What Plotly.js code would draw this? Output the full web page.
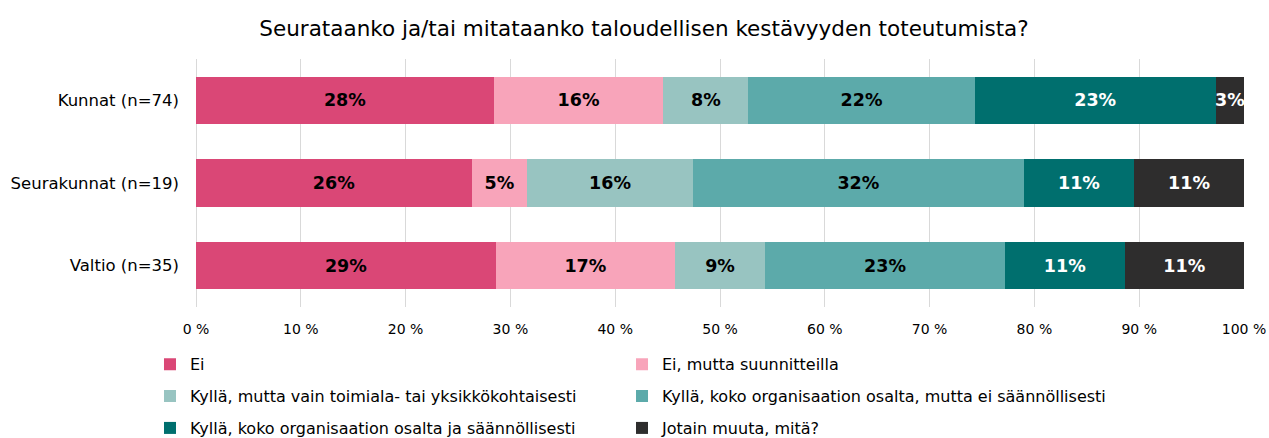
<!DOCTYPE html>
<html>
<head>
<meta charset="utf-8">
<script src="https://cdn.plot.ly/plotly-3.0.1.min.js"></script>
<style>html,body{margin:0;padding:0;background:#fff;}#chart{width:1269px;height:438px;}</style>
</head>
<body>
<div id="chart"></div>
<script>
const categories = ["Kunnat (n=74)", "Seurakunnat (n=19)", "Valtio (n=35)"];
const seriesNames = [
  "Ei",
  "Ei, mutta suunnitteilla",
  "Kyllä, mutta vain toimiala- tai yksikkökohtaisesti",
  "Kyllä, koko organisaation osalta, mutta ei säännöllisesti",
  "Kyllä, koko organisaation osalta ja säännöllisesti",
  "Jotain muuta, mitä?"
];
const ei          = [28.4, 26.3, 28.6];
const eiMutta     = [16.2, 5.3, 17.1];
const kyllaVain   = [8.1, 15.8, 8.6];
const kyllaEiSaan = [21.6, 31.6, 22.9];
const kyllaSaan   = [23.0, 10.5, 11.4];
const jotain      = [2.7, 10.5, 11.4];
const tickVals = [0,10,20,30,40,50,60,70,80,90,100];
const tickText = ["0 %","10 %","20 %","30 %","40 %","50 %","60 %","70 %","80 %","90 %","100 %"];

const seriesValues = [ei, eiMutta, kyllaVain, kyllaEiSaan, kyllaSaan, jotain];
const colors = ["#DA4776", "#F8A4BA", "#98C4C1", "#5CAAAA", "#006F6E", "#2E2D2D"];
const textColors = ["#000", "#000", "#000", "#000", "#fff", "#fff"];
const legendIds = ["legend", "legend2", "legend3", "legend4", "legend5", "legend6"];
const FONT = "Verdana, 'DejaVu Sans', sans-serif";

const traces = seriesValues.map((vals, i) => ({
  type: "bar",
  orientation: "h",
  name: seriesNames[i],
  y: categories,
  x: vals,
  marker: {color: colors[i], line: {width: 0}},
  text: vals.map(v => Math.round(v) + "%"),
  texttemplate: "%{text}",
  textposition: "inside",
  insidetextanchor: "middle",
  textangle: 0,
  constraintext: "none",
  textfont: {family: FONT, size: 17.5, color: textColors[i], weight: "bold"},
  hoverinfo: "name+x",
  legend: legendIds[i]
}));

const legendCommon = {
  orientation: "h",
  xref: "paper",
  yref: "paper",
  xanchor: "left",
  yanchor: "middle",
  font: {family: FONT, size: 16, color: "#000"},
  bgcolor: "rgba(0,0,0,0)",
  itemclick: false
};
const colX = [-0.0439, 0.4065];
const rowY = [-0.2309, -0.3594, -0.4880];

const layout = {
  width: 1269,
  height: 438,
  paper_bgcolor: "#fff",
  plot_bgcolor: "#fff",
  margin: {l: 196, r: 25, t: 58.5, b: 130.5, autoexpand: false},
  barmode: "stack",
  bargap: 0.43,
  title: {
    text: "Seurataanko ja/tai mitataanko taloudellisen kestävyyden toteutumista?",
    font: {family: "'DejaVu Sans', sans-serif", size: 21.5, color: "#000"},
    xref: "paper", x: 0.4275, xanchor: "center",
    yref: "container", y: 0.936, yanchor: "middle"
  },
  xaxis: {
    range: [0, 100],
    tickvals: tickVals,
    ticktext: tickText,
    showgrid: true,
    gridcolor: "#D9D9D9",
    gridwidth: 1,
    zeroline: true,
    zerolinecolor: "#D9D9D9",
    showline: false,
    ticks: "",
    tickfont: {family: FONT, size: 14, color: "#000"},
    ticklabelstandoff: 12,
    fixedrange: true
  },
  yaxis: {
    autorange: "reversed",
    ticks: "",
    showgrid: false,
    zeroline: false,
    tickfont: {family: FONT, size: 16.5, color: "#000"},
    ticklabelstandoff: 16,
    fixedrange: true
  },
  showlegend: true
};
legendIds.forEach((id, i) => {
  layout[id] = Object.assign({}, legendCommon, {x: colX[i % 2], y: rowY[Math.floor(i / 2)]});
});

Plotly.newPlot("chart", traces, layout, {displayModeBar: false, staticPlot: true});
</script>
</body>
</html>
